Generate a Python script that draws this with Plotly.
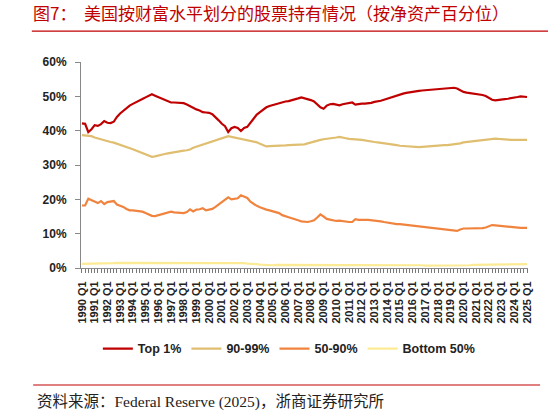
import plotly.graph_objects as go

# quarters 1990 Q1 .. 2025 Q1
years = list(range(1990, 2026))
quarters = ["Q1", "Q2", "Q3", "Q4"]

# share of corporate equities held, %
top1 = [
    42.1, 42.0, 39.6, 40.4, 41.6, 41.4, 41.9, 42.8, 42.3, 42.2,
    42.6, 44.0, 45.0, 45.8, 46.6, 47.3, 47.8, 48.2, 48.6, 49.2,
    49.7, 50.2, 50.6, 50.2, 49.8, 49.3, 48.9, 48.5, 48.2, 48.2,
    48.1, 48.2, 48.0, 47.6, 47.1, 46.7, 46.2, 45.9, 45.4, 45.3,
    45.2, 44.8, 44.0, 43.0, 42.0, 41.3, 39.6, 40.7, 41.1, 40.8,
    39.9, 40.8, 41.1, 42.4, 43.6, 44.7, 45.4, 46.1, 46.8, 47.2,
    47.5, 47.7, 47.9, 48.2, 48.5, 48.6, 48.8, 49.1, 49.4, 49.7,
    49.5, 49.2, 48.9, 48.5, 47.6, 46.8, 46.4, 47.3, 47.7, 47.8,
    47.6, 47.4, 47.7, 47.9, 48.1, 48.2, 47.6, 47.8, 47.9, 47.9,
    47.9, 48.1, 48.4, 48.5, 48.7, 49.0, 49.3, 49.7, 50.1, 50.4,
    50.6, 50.8, 51.0, 51.2, 51.4, 51.6, 51.6, 51.7, 51.8, 51.8,
    51.9, 52.0, 52.1, 52.2, 52.3, 52.3, 52.4, 52.5, 52.3, 51.8,
    51.3, 51.1, 51.0, 50.8, 50.6, 50.5, 50.4, 50.1, 49.6, 49.0,
    48.8, 49.0, 49.1, 49.2, 49.3, 49.4, 49.6, 49.8, 50.0, 49.9,
    49.8,
]
p90_99 = [
    38.7, 38.6, 38.5, 38.4, 38.0, 37.7, 37.5, 37.2, 37.0, 36.7,
    36.5, 36.2, 36.0, 35.6, 35.3, 35.0, 34.6, 34.2, 33.8, 33.4,
    33.0, 32.6, 32.4, 32.5, 32.8, 33.0, 33.2, 33.4, 33.6, 33.7,
    33.9, 34.1, 34.2, 34.3, 34.5, 35.0, 35.3, 35.7, 36.0, 36.3,
    36.6, 36.9, 37.1, 37.5, 37.8, 38.1, 38.4, 38.2, 38.0, 37.8,
    37.7, 37.5, 37.4, 37.1, 36.8, 36.6, 36.2, 35.8, 35.4, 35.5,
    35.5, 35.6, 35.6, 35.7, 35.7, 35.8, 35.8, 35.9, 35.9, 36.0,
    36.0, 36.3, 36.6, 36.8, 37.0, 37.3, 37.5, 37.6, 37.6, 37.8,
    38.0, 38.2, 38.1, 37.8, 37.6, 37.6, 37.5, 37.4, 37.3, 37.1,
    37.0, 36.9, 36.7, 36.6, 36.5, 36.3, 36.2, 36.0, 35.9, 35.8,
    35.6, 35.5, 35.4, 35.3, 35.2, 35.2, 35.2, 35.3, 35.4, 35.5,
    35.6, 35.6, 35.7, 35.7, 35.8, 35.8, 35.9, 36.0, 36.0, 36.3,
    36.6, 36.7, 36.8, 36.9, 37.0, 37.1, 37.2, 37.4, 37.6, 37.7,
    37.7, 37.6, 37.6, 37.5, 37.4, 37.3, 37.3, 37.3, 37.3, 37.3,
    37.3,
]
p50_90 = [
    18.2, 18.2, 20.2, 19.8, 19.2, 18.9, 19.5, 18.6, 19.2, 19.4,
    19.5, 18.5, 18.2, 17.8, 17.2, 16.8, 16.8, 16.7, 16.6, 16.4,
    16.0, 15.6, 15.2, 15.1, 15.4, 15.6, 15.8, 16.1, 16.4, 16.2,
    16.2, 16.1, 16.0, 16.3, 17.1, 16.5, 17.0, 17.1, 17.4, 16.8,
    17.0, 17.2, 17.8, 18.5, 19.3, 19.8, 20.6, 20.0, 20.1, 20.3,
    21.2, 20.8, 20.4, 19.3, 18.6, 18.1, 17.7, 17.3, 17.0, 16.8,
    16.6, 16.2, 16.0, 15.4, 15.0, 14.8, 14.5, 14.3, 13.9, 13.6,
    13.4, 13.4, 13.6, 13.9, 14.7, 15.6, 15.0, 14.3, 14.1, 13.9,
    13.7, 13.8, 13.6, 13.4, 13.4, 13.4, 14.2, 14.0, 13.9, 14.0,
    14.0, 13.9, 13.9, 13.9, 13.6, 13.4, 13.2, 13.0, 12.9, 12.8,
    12.8, 12.7, 12.6, 12.5, 12.4, 12.3, 12.2, 12.0, 11.9, 11.8,
    11.7, 11.6, 11.5, 11.5, 11.4, 11.3, 11.2, 11.0, 10.8, 11.2,
    11.5, 11.5, 11.5, 11.5, 11.5, 11.5, 11.6, 11.8, 12.1, 12.5,
    12.4, 12.3, 12.2, 12.2, 12.0, 11.8, 11.8, 11.7, 11.7, 11.7,
    11.7,
]
bottom50 = [
    1.2, 1.2, 1.3, 1.3, 1.3, 1.3, 1.4, 1.4, 1.4, 1.4,
    1.4, 1.5, 1.5, 1.5, 1.5, 1.5, 1.5, 1.5, 1.5, 1.5,
    1.5, 1.5, 1.5, 1.5, 1.5, 1.5, 1.5, 1.5, 1.5, 1.5,
    1.6, 1.6, 1.6, 1.6, 1.6, 1.6, 1.6, 1.6, 1.6, 1.6,
    1.6, 1.6, 1.6, 1.6, 1.6, 1.5, 1.5, 1.5, 1.5, 1.5,
    1.4, 1.4, 1.3, 1.3, 1.2, 1.1, 1.0, 0.9, 0.9, 0.8,
    0.8, 0.9, 0.9, 0.9, 1.0, 1.0, 1.0, 1.0, 1.0, 1.0,
    1.0, 1.0, 1.0, 1.0, 1.0, 0.9, 0.9, 0.9, 0.9, 0.9,
    0.9, 0.9, 0.9, 0.9, 0.9, 0.9, 0.9, 0.9, 0.9, 0.9,
    0.9, 0.9, 0.9, 0.8, 0.8, 0.8, 0.8, 0.8, 0.8, 0.8,
    0.8, 0.8, 0.8, 0.8, 0.8, 0.8, 0.8, 0.8, 0.7, 0.7,
    0.7, 0.7, 0.6, 0.6, 0.6, 0.6, 0.6, 0.6, 0.6, 0.6,
    0.7, 0.7, 0.8, 0.9, 0.9, 1.0, 1.0, 1.0, 1.0, 1.0,
    1.0, 1.0, 1.0, 1.0, 1.0, 1.0, 1.0, 1.0, 1.0, 1.1,
    1.1,
]

series_names = ["Top 1%", "90-99%", "50-90%", "Bottom 50%"]
series_colors = ["#C00000", "#E0BE70", "#F0843F", "#FCEB94"]

title_text = "图7：  美国按财富水平划分的股票持有情况（按净资产百分位）"
source_text = "资料来源：Federal Reserve (2025)，浙商证券研究所"

labels = [f"{y} {q}" for y in years for q in quarters][:len(top1)]
tick_text = [lab if lab.endswith("Q1") else "" for lab in labels]

fig = go.Figure()
for name, vals, color in zip(series_names, [top1, p90_99, p50_90, bottom50], series_colors):
    fig.add_trace(go.Scatter(
        x=labels, y=vals, name=name, mode="lines",
        line=dict(color=color, width=2.2),
        hoverinfo="skip",
    ))

fig.update_layout(
    width=548, height=417,
    margin=dict(l=81, r=20, t=62, b=149, autoexpand=False),
    paper_bgcolor="white", plot_bgcolor="white",
    showlegend=True,
    title=dict(
        text=title_text, xref="container", yref="container",
        x=33 / 548, xanchor="left", y=1 - 14 / 417, yanchor="middle",
        font=dict(family="Noto Sans CJK SC", size=17, color="#C00000"),
    ),
    legend=dict(
        orientation="h", x=0.465, xanchor="center", y=-0.393, yanchor="middle",
        font=dict(family="Arial", size=12.5, color="#222", weight="bold"),
        itemwidth=30,
    ),
    font=dict(family="Arial", color="#333"),
    annotations=[
        dict(text=source_text, xref="paper", yref="paper", x=-0.103, y=-0.65,
             xanchor="left", yanchor="middle", showarrow=False,
             font=dict(family="Liberation Serif, Noto Sans CJK SC", size=15.5, color="#222")),
    ],
    shapes=[
        dict(type="line", xref="paper", yref="paper", x0=-0.11, x1=1.05,
             y0=1.15, y1=1.15, line=dict(color="#C00000", width=1.2)),
        dict(type="line", xref="paper", yref="paper", x0=-0.107, x1=1.027,
             y0=-0.568, y1=-0.568, line=dict(color="#C00000", width=1.2)),
    ],
)

fig.update_xaxes(
    type="category", range=[-0.3, len(labels) - 0.7], automargin=False,
    tickmode="array", tickvals=labels, ticktext=tick_text,
    tickangle=-90, ticks="outside", ticklen=4, tickcolor="#777", tickwidth=1,
    ticklabelstandoff=4,
    tickfont=dict(family="Arial", size=11, color="#222", weight="bold"),
    showline=True, linecolor="#888", linewidth=1,
    showgrid=False, zeroline=False,
)
fig.update_yaxes(
    range=[0, 60], dtick=10, ticksuffix="%", automargin=False,
    ticks="outside", ticklen=5, tickcolor="#888", ticklabelstandoff=6,
    tickfont=dict(family="Arial", size=12, color="#222", weight="bold"),
    showline=True, linecolor="#888", linewidth=1,
    showgrid=False, zeroline=False,
)

# the page's default body margin would push the figure off by 8px
fig.write_html("out.html", config={"displayModeBar": False},
               post_script="document.body.style.margin='0';")
